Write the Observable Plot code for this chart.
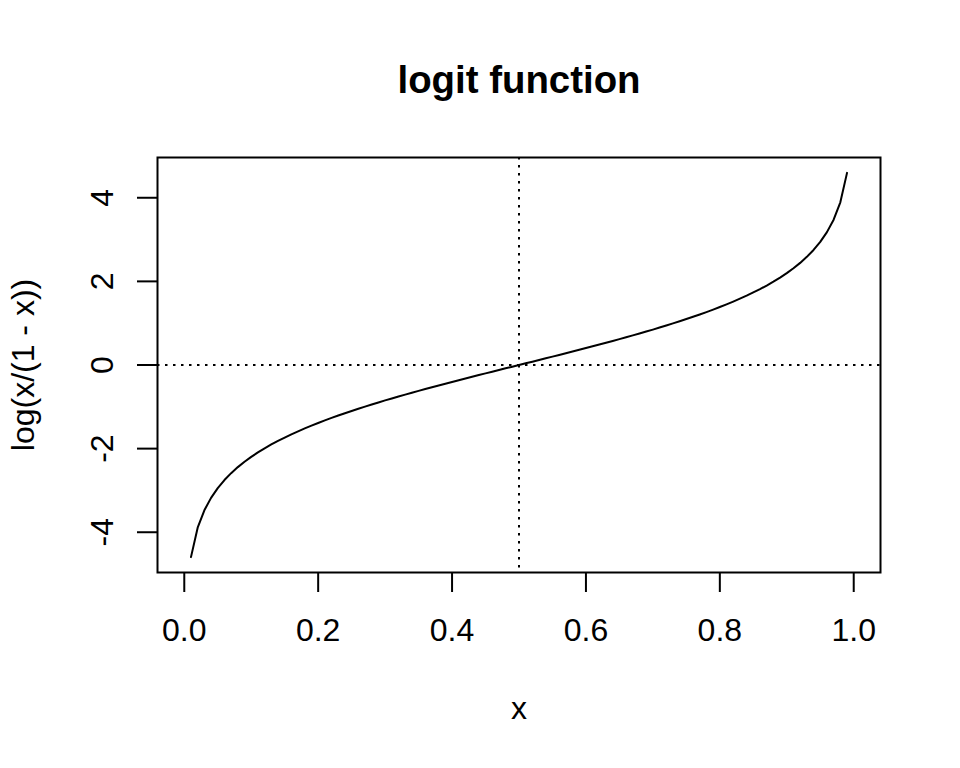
<!DOCTYPE html>
<html>
<head>
<meta charset="utf-8">
<script src="https://cdn.jsdelivr.net/npm/d3@7"></script>
<script src="https://cdn.jsdelivr.net/npm/@observablehq/plot@0.6"></script>
<style>
  html, body { margin: 0; padding: 0; background: #fff; }
  #chart svg { display: block; }
</style>
</head>
<body>
<div id="chart"></div>
<script>
// Curve points (x, log(x/(1-x)))
const xValues = [
  0.01,0.02,0.03,0.04,0.05,0.06,0.07,0.08,0.09,0.10,
  0.11,0.12,0.13,0.14,0.15,0.16,0.17,0.18,0.19,0.20,
  0.21,0.22,0.23,0.24,0.25,0.26,0.27,0.28,0.29,0.30,
  0.31,0.32,0.33,0.34,0.35,0.36,0.37,0.38,0.39,0.40,
  0.41,0.42,0.43,0.44,0.45,0.46,0.47,0.48,0.49,0.50,
  0.51,0.52,0.53,0.54,0.55,0.56,0.57,0.58,0.59,0.60,
  0.61,0.62,0.63,0.64,0.65,0.66,0.67,0.68,0.69,0.70,
  0.71,0.72,0.73,0.74,0.75,0.76,0.77,0.78,0.79,0.80,
  0.81,0.82,0.83,0.84,0.85,0.86,0.87,0.88,0.89,0.90,
  0.91,0.92,0.93,0.94,0.95,0.96,0.97,0.98,0.99
];
const yValues = [
  -4.595,-3.892,-3.476,-3.178,-2.944,-2.752,-2.587,-2.442,-2.314,-2.197,
  -2.091,-1.992,-1.901,-1.815,-1.735,-1.658,-1.586,-1.516,-1.450,-1.386,
  -1.325,-1.266,-1.208,-1.153,-1.099,-1.046,-0.995,-0.944,-0.895,-0.847,
  -0.800,-0.754,-0.708,-0.663,-0.619,-0.575,-0.532,-0.490,-0.447,-0.405,
  -0.364,-0.323,-0.282,-0.241,-0.201,-0.160,-0.120,-0.080,-0.040,0.000,
  0.040,0.080,0.120,0.160,0.201,0.241,0.282,0.323,0.364,0.405,
  0.447,0.490,0.532,0.575,0.619,0.663,0.708,0.754,0.800,0.847,
  0.895,0.944,0.995,1.046,1.099,1.153,1.208,1.266,1.325,1.386,
  1.450,1.516,1.586,1.658,1.735,1.815,1.901,1.992,2.091,2.197,
  2.314,2.442,2.587,2.752,2.944,3.178,3.476,3.892,4.595
];
const xTicks = [0.0, 0.2, 0.4, 0.6, 0.8, 1.0];
const yTicks = [-4, -2, 0, 2, 4];
const vLine = [0.5];
const hLine = [0];
const titleText = "logit function";
const xLabel = "x";
const yLabel = "log(x/(1 - x))";

const data = xValues.map((x, i) => ({x, y: yValues[i]}));

const chart = Plot.plot({
  width: 960,
  height: 768,
  marginTop: 157,
  marginBottom: 196,
  marginLeft: 157,
  marginRight: 80,
  style: {fontFamily: "'Liberation Sans', Arial, Helvetica, sans-serif", background: "#fff", color: "#000", overflow: "visible"},
  x: {domain: [-0.04, 1.04]},
  y: {domain: [-4.963, 4.963]},
  marks: [
    Plot.ruleX(vLine, {stroke: "#000", strokeWidth: 2, strokeDasharray: "2.5,5.5"}),
    Plot.ruleY(hLine, {stroke: "#000", strokeWidth: 2, strokeDasharray: "2.5,5.5"}),
    Plot.line(data, {x: "x", y: "y", stroke: "#000", strokeWidth: 2}),
    Plot.frame({stroke: "#000", strokeWidth: 2}),
    Plot.axisX({ticks: xTicks, tickSize: 20, tickPadding: 26, tickFormat: d3.format(".1f"), fontSize: 32, strokeWidth: 2, label: null, color: "#000"}),
    Plot.axisY({ticks: yTicks, tickSize: 20, tickFormat: () => "", strokeWidth: 2, label: null}),
    Plot.text(yTicks, {y: d => d, text: d => String(d), frameAnchor: "left", dx: -55, rotate: -90, fontSize: 32, textAnchor: "middle", lineAnchor: "middle", fill: "#000"}),
    Plot.text([titleText], {frameAnchor: "top", dy: -77, fontSize: 38.4, fontWeight: "bold", textAnchor: "middle", lineAnchor: "middle", fill: "#000"}),
    Plot.text([xLabel], {frameAnchor: "bottom", dy: 136, fontSize: 32, textAnchor: "middle", lineAnchor: "middle", fill: "#000"}),
    Plot.text([yLabel], {frameAnchor: "left", dx: -134, rotate: -90, fontSize: 32, textAnchor: "middle", lineAnchor: "middle", fill: "#000"})
  ]
});
document.getElementById("chart").appendChild(chart);
</script>
</body>
</html>
